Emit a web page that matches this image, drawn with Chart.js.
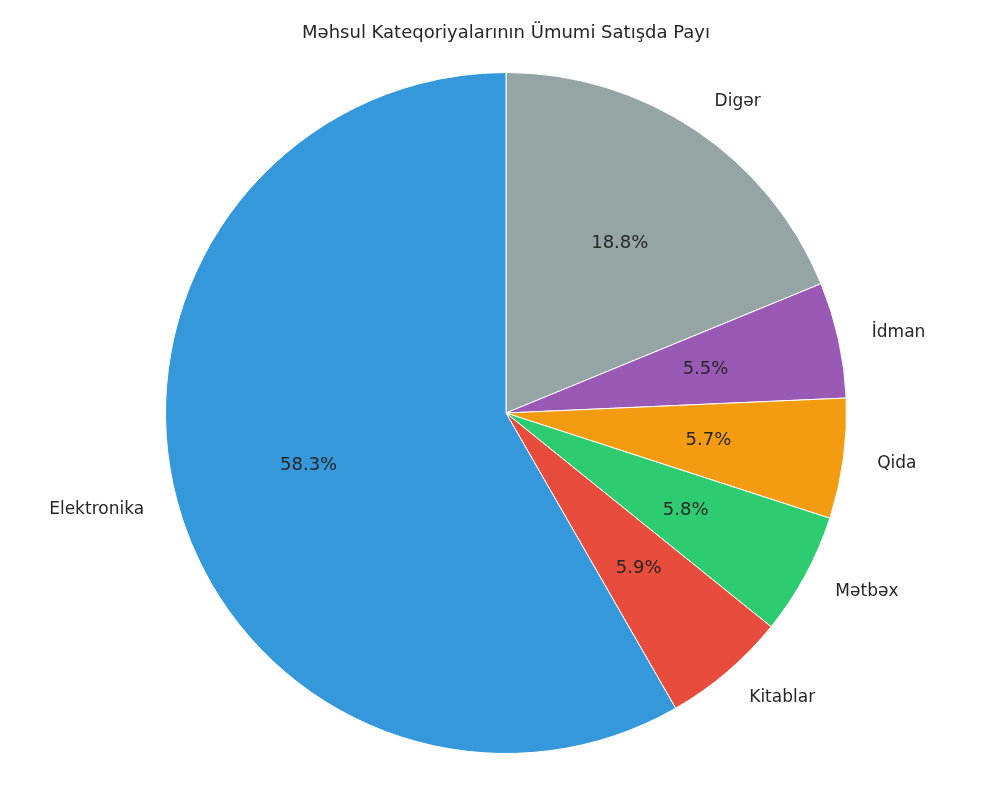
<!DOCTYPE html>
<html><head><meta charset="utf-8">
<script src="https://cdn.jsdelivr.net/npm/chart.js@4"></script>
<style>html,body{margin:0;padding:0;background:#fff}#w{width:1000px;height:800px}</style>
</head><body><div id="w"><canvas id="c"></canvas></div>
<script>
const categories = ["Digər","İdman","Qida","Mətbəx","Kitablar","Elektronika"];
const shares = [18.8,5.5,5.7,5.8,5.9,58.3];
const colors = ["#95a5a6","#9b59b6","#f39c12","#2ecc71","#e74c3c","#3498db"];
const titleText = "Məhsul Kateqoriyalarının Ümumi Satışda Payı";
const F = "'DejaVu Sans', sans-serif";
const labelPlugin = {
  id:'lbl',
  afterDraw(chart){
    const ctx = chart.ctx;
    ctx.save();
    ctx.fillStyle = '#262626';
    ctx.textBaseline='middle';
    ctx.font = "18px "+F; ctx.textAlign='center';
    ctx.fillText(titleText, 506, 33);
    chart.getDatasetMeta(0).data.forEach((arc,i)=>{
      const a = (arc.startAngle+arc.endAngle)/2;
      const r = arc.outerRadius, cx = arc.x, cy = arc.y;
      const c = Math.cos(a), s = Math.sin(a);
      ctx.font = "17px "+F;
      ctx.textAlign = c>=0 ? 'left':'right';
      ctx.fillText(categories[i], cx+1.1*r*c, cy+1.1*r*s);
      ctx.textAlign='center';
      ctx.font = "18px "+F;
      ctx.fillText(shares[i].toFixed(1)+'%', cx+0.6*r*c, cy+0.6*r*s);
    });
    ctx.restore();
  }
};
new Chart(document.getElementById('c'),{
  type:'pie',
  data:{labels:categories,datasets:[{data:shares,backgroundColor:colors,borderColor:'#fff',borderWidth:1}]},
  options:{responsive:true,maintainAspectRatio:false,animation:false,
    layout:{padding:{top:72,bottom:46,left:12,right:0}},
    plugins:{legend:{display:false},tooltip:{enabled:false},title:{display:false}}},
  plugins:[labelPlugin]
});
</script></body></html>
